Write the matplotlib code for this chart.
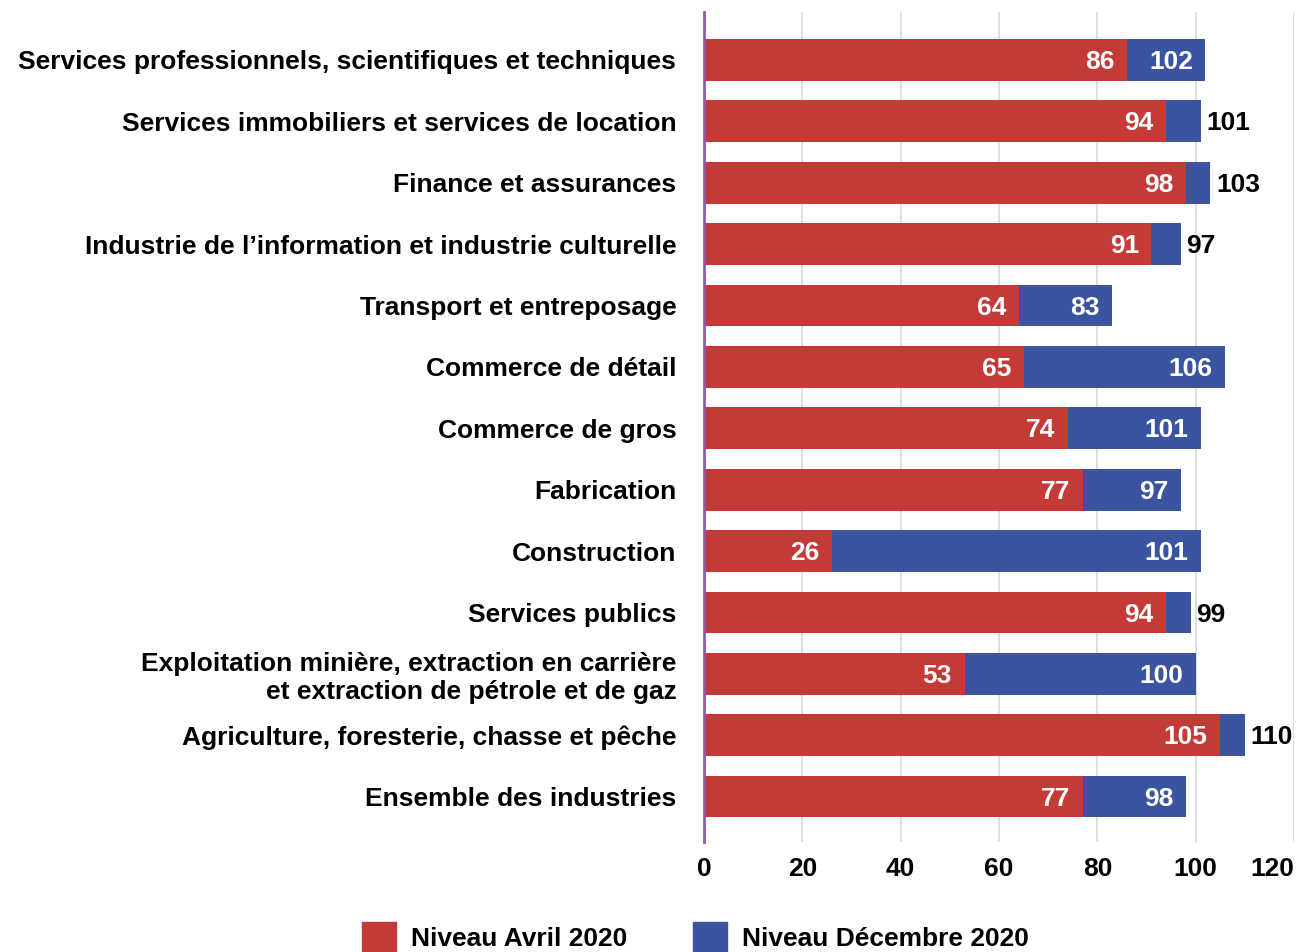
import matplotlib.pyplot as plt
from matplotlib.patches import Patch

plt.rcParams['font.family'] = ['Liberation Sans', 'DejaVu Sans']
plt.rcParams['font.weight'] = 'bold'

industries = [
    'Services professionnels, scientifiques et techniques',
    'Services immobiliers et services de location',
    'Finance et assurances',
    'Industrie de l\u2019information et industrie culturelle',
    'Transport et entreposage',
    'Commerce de détail',
    'Commerce de gros',
    'Fabrication',
    'Construction',
    'Services publics',
    'Exploitation minière, extraction en carrière\net extraction de pétrole et de gaz',
    'Agriculture, foresterie, chasse et pêche',
    'Ensemble des industries',
]
avril = [86, 94, 98, 91, 64, 65, 74, 77, 26, 94, 53, 105, 77]
decembre = [102, 101, 103, 97, 83, 106, 101, 97, 101, 99, 100, 110, 98]
xticks = [0, 20, 40, 60, 80, 100, 120]

RED = '#c43a37'
BLUE = '#3b54a0'
FS = 19

fig = plt.figure(figsize=(13.04, 9.52), dpi=100)
ax = fig.add_axes([0.5399, 0.1155, 0.4524, 0.8719])

y = list(range(len(industries)))
ax.barh(y, decembre, height=0.68, color=BLUE, zorder=2)
ax.barh(y, avril, height=0.68, color=RED, zorder=3)

# value labels: white inside the bar, black past the end when the blue part is too thin
for i, (a, d) in enumerate(zip(avril, decembre)):
    ax.annotate(str(a), (a, i), xytext=(-9, -1.5), textcoords='offset points',
                ha='right', va='center', color='white', fontsize=FS,
                fontweight='bold', zorder=4)
    if d - a >= 10:
        ax.annotate(str(d), (d, i), xytext=(-9, -1.5), textcoords='offset points',
                    ha='right', va='center', color='white', fontsize=FS,
                    fontweight='bold', zorder=4)
    else:
        ax.annotate(str(d), (d, i), xytext=(4, -1.5), textcoords='offset points',
                    ha='left', va='center', color='black', fontsize=FS,
                    fontweight='bold', zorder=4, annotation_clip=False)

ax.set_xlim(0, 120)
ax.set_ylim(len(industries) - 0.26, -0.78)
ax.set_xticks(xticks)
ax.set_xticklabels([str(t) for t in xticks], fontsize=FS, fontweight='bold')
ax.xaxis.get_ticklabels()[-1].set_horizontalalignment('right')
ax.set_yticks(y)
ax.set_yticklabels(industries, fontsize=FS, fontweight='bold', linespacing=1.2)
ax.tick_params(axis='both', length=0)
ax.tick_params(axis='y', pad=20)
ax.tick_params(axis='x', pad=11)

ax.grid(axis='x', color='#d9d9d9', linewidth=1.2, zorder=0)
ax.set_axisbelow(True)
for side in ['top', 'right', 'bottom']:
    ax.spines[side].set_visible(False)
ax.spines['left'].set_color('#9457a8')
ax.spines['left'].set_linewidth(2)
ax.spines['left'].set_zorder(5)

handles = [Patch(color=RED, label='Niveau Avril 2020'),
           Patch(color=BLUE, label='Niveau Décembre 2020')]
fig.legend(handles=handles, loc='upper left', bbox_to_anchor=(0.2776, 0.0315),
           ncol=2, frameon=False, borderpad=0, borderaxespad=0,
           handlelength=1.3, handleheight=1.4, handletextpad=0.55,
           columnspacing=2.5, prop={'weight': 'bold', 'size': FS})

fig.savefig('out.png', dpi=100)
